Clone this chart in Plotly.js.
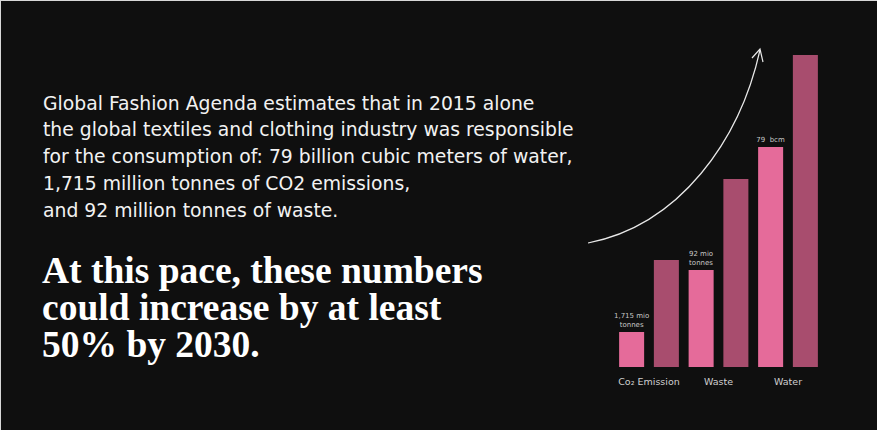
<!DOCTYPE html>
<html>
<head>
<meta charset="utf-8">
<script src="https://cdn.plot.ly/plotly-3.0.1.min.js"></script>
<style>
html,body{margin:0;padding:0;background:#0f0f0f;}
#chart{width:877px;height:430px;}
</style>
</head>
<body>
<div id="chart"></div>
<script>
// ---- data ----
const categories = ['Co₂ Emission', 'Waste', 'Water'];
const values2015 = [35, 97, 220];
const values2030 = [107, 188, 312];
const labels2015 = ['1,715 mio<br>tonnes', '92 mio<br>tonnes', '79  bcm'];

const bodyLines = [
  'Global Fashion Agenda estimates that in 2015 alone',
  'the global textiles and clothing industry was responsible',
  'for the consumption of: 79 billion cubic meters of water,',
  '1,715 million tonnes of CO2 emissions,',
  'and 92 million tonnes of waste.'
];
const headLines = [
  'At this pace, these numbers',
  'could increase by at least',
  '50% by 2030.'
];

// ---- helpers (figure pixels -> paper) ----
const W = 877, H = 430;
const px = x => x / W;
const py = y => 1 - y / H;
const pt = (x, y) => px(x).toFixed(5) + ',' + py(y).toFixed(5);

const sans = '"DejaVu Sans", "Noto Sans", sans-serif';
const serif = '"Liberation Serif", "DejaVu Serif", serif';

const annotations = [];
bodyLines.forEach((t, i) => {
  annotations.push({
    xref: 'paper', yref: 'paper', x: px(41), y: py(103 + i * 26.8),
    xanchor: 'left', yanchor: 'middle', showarrow: false, align: 'left',
    text: t, font: {family: sans, size: 18.8, color: '#f2f2f2'}
  });
});
headLines.forEach((t, i) => {
  annotations.push({
    xref: 'paper', yref: 'paper', x: px(40), y: py(270.5 + i * 37),
    xanchor: 'left', yanchor: 'middle', showarrow: false, align: 'left',
    text: t, font: {family: serif, size: 37.5, color: '#ffffff', weight: 700}
  });
});

const shapes = [
  {type: 'path', xref: 'paper', yref: 'paper',
   path: 'M' + pt(588, 243) + ' C' + pt(680, 225) + ' ' + pt(740, 140) + ' ' + pt(760, 50),
   line: {color: '#e8e8e8', width: 1.2}},
  {type: 'path', xref: 'paper', yref: 'paper',
   path: 'M' + pt(752, 58) + ' L' + pt(760, 49) + ' L' + pt(763, 62),
   line: {color: '#e8e8e8', width: 1.2}},
  {type: 'line', xref: 'paper', yref: 'paper', x0: 0, x1: 1, y0: py(0.5), y1: py(0.5),
   line: {color: '#d8d8d8', width: 1}},
  {type: 'line', xref: 'paper', yref: 'paper', x0: px(0.5), x1: px(0.5), y0: 0, y1: 1,
   line: {color: '#d8d8d8', width: 1}}
];

const traces = [
  {type: 'bar', x: categories, y: values2015, name: '2015',
   marker: {color: '#e56b9a'},
   text: labels2015, textposition: 'outside', cliponaxis: false,
   constraintext: 'none', textfont: {family: sans, size: 7, color: '#c8c8c8'},
   hoverinfo: 'skip'},
  {type: 'bar', x: categories, y: values2030, name: '2030',
   marker: {color: '#a84d6e'}, hoverinfo: 'skip'}
];

const layout = {
  width: W, height: H,
  margin: {l: 0, r: 0, t: 0, b: 0},
  paper_bgcolor: '#0f0f0f', plot_bgcolor: 'rgba(0,0,0,0)',
  showlegend: false,
  barmode: 'group', bargap: 0, bargroupgap: 0.28,
  xaxis: {domain: [px(614.25), px(822.75)], range: [-0.5, 2.5], type: 'category',
          showgrid: false, zeroline: false, showline: false, ticks: '',
          tickfont: {family: sans, size: 9.5, color: '#cfcfcf'}, automargin: false,
          ticklabelstandoff: 7, fixedrange: true},
  yaxis: {domain: [py(367), py(47)], range: [0, 320], visible: false, fixedrange: true},
  annotations: annotations,
  shapes: shapes
};

Plotly.newPlot('chart', traces, layout, {displayModeBar: false, staticPlot: true});
</script>
</body>
</html>
